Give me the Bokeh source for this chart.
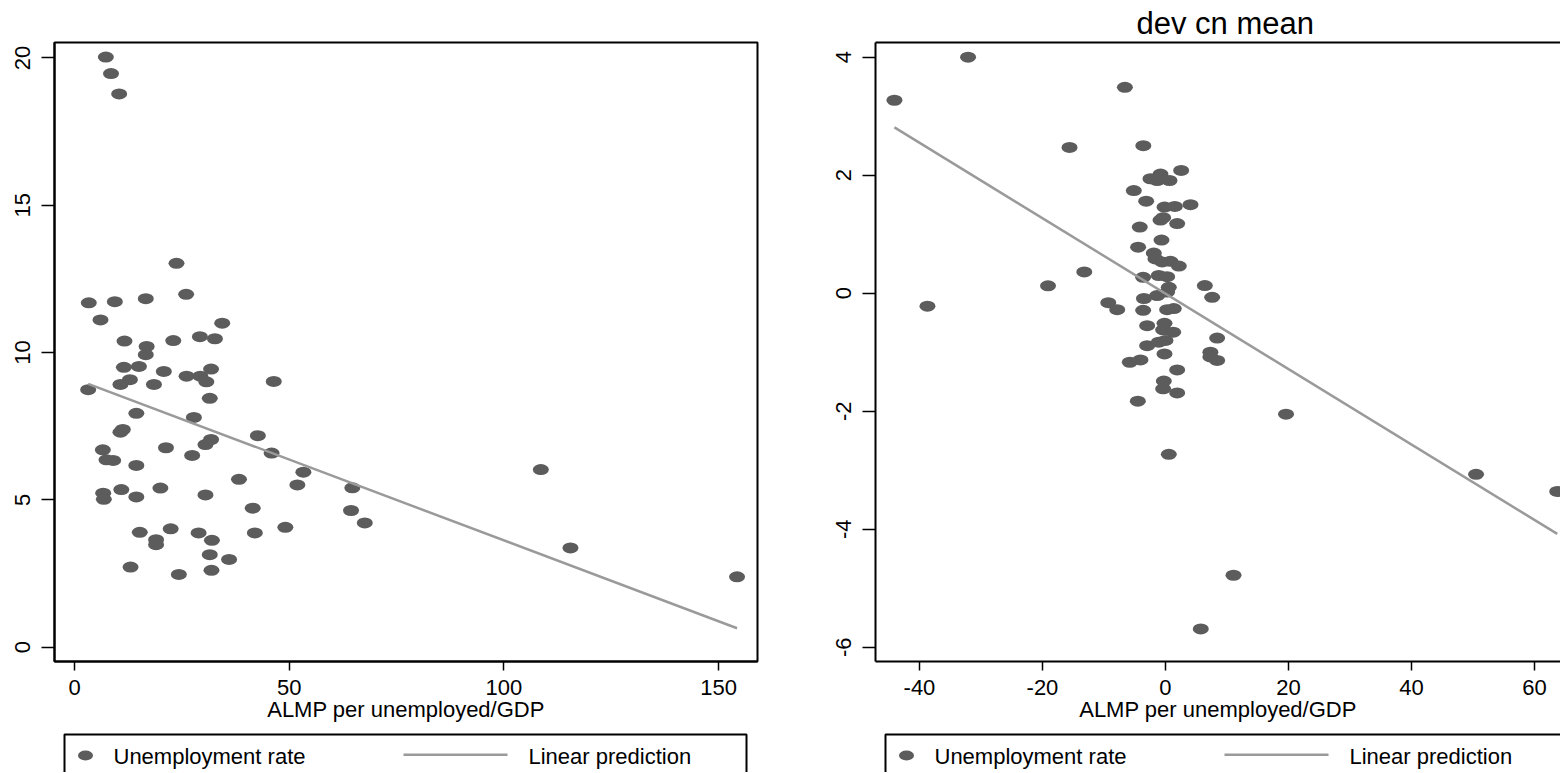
from bokeh.plotting import figure
from bokeh.models import Range1d, FixedTicker, LinearAxis, ColumnDataSource, Title
from bokeh.layouts import row, column
from bokeh.embed import file_html
from bokeh.resources import INLINE
from bokeh.core.properties import value

FONT = "Liberation Sans"
DOT_COLOR = "#5c5c5c"
FIT_COLOR = "#9a9a9a"

x_axis_title = "ALMP per unemployed/GDP"
dot_label = "Unemployment rate"
fit_label = "Linear prediction"
right_title = "dev cn mean"

# ---------------- left panel data ----------------
left_x = [7.3, 8.5, 10.4, 23.75, 3.33, 9.39, 16.6, 26.0, 6.05, 34.4,
          11.64, 23.0, 29.2, 32.7, 16.8, 16.6, 11.5, 15.0, 20.8, 31.8,
          26.1, 29.3, 30.7, 12.9, 10.7, 18.5, 46.4, 3.18, 31.5, 14.4,
          27.8, 11.25, 10.7, 31.8, 30.5, 42.7, 6.6, 21.3, 45.9, 7.45,
          9.0, 27.4, 14.4, 53.3, 38.3, 51.9, 64.7, 20.0, 10.9, 6.68,
          6.83, 14.4, 30.5, 41.5, 64.4, 67.6, 15.2, 22.4, 28.9, 32.0,
          19.0, 19.0, 42.0, 49.1, 31.5, 36.0, 13.05, 24.3, 31.9, 108.6,
          115.5, 154.3]
left_y = [20.03, 19.47, 18.78, 13.03, 11.69, 11.73, 11.83, 11.98, 11.11, 11.0,
          10.39, 10.41, 10.54, 10.47, 10.21, 9.93, 9.50, 9.53, 9.36, 9.44,
          9.20, 9.20, 9.01, 9.08, 8.92, 8.92, 9.02, 8.74, 8.45, 7.94,
          7.80, 7.39, 7.30, 7.05, 6.88, 7.18, 6.70, 6.77, 6.59, 6.36,
          6.34, 6.51, 6.17, 5.94, 5.70, 5.51, 5.41, 5.40, 5.35, 5.23,
          5.02, 5.10, 5.17, 4.72, 4.64, 4.22, 3.90, 4.02, 3.88, 3.63,
          3.65, 3.48, 3.88, 4.07, 3.14, 2.98, 2.72, 2.47, 2.61, 6.03,
          3.37, 2.39]
left_fit_x = [3.18, 154.3]
left_fit_y = [8.94, 0.645]
left_xticks = [0, 50, 100, 150]
left_xtick_labels = ["0", "50", "100", "150"]
left_yticks = [0, 5, 10, 15, 20]
left_ytick_labels = ["0", "5", "10", "15", "20"]

# ---------------- right panel data ----------------
right_x = [-44.07, -32.1, -6.6, -15.6, -3.6, -38.7, -19.1, -13.2, -9.3, -7.85,
           -4.5, 0.54, -5.8, -4.07, 19.6, 11.06, 5.74, 50.5, 63.7, 2.55,
           -2.44, -0.81, -1.35, 0.65, -5.15, -3.14, -0.16, 1.52, 4.07, -0.81,
           -0.38, 1.9, -4.18, -0.65, -4.45, -1.9, -1.63, -0.54, 0.81, 2.17,
           -1.09, 0.27, -3.63, 0.54, 6.4, 7.59, -3.5, -1.35, 0.27, -3.63,
           0.27, 1.35, -2.98, -0.16, -0.38, 1.25, 8.4, -2.98, -1.09, 0.0,
           -0.16, 7.3, 7.3, 8.4, 1.9, -0.27, -0.38, 1.9]
right_y = [3.27, 4.00, 3.49, 2.47, 2.50, -0.22, 0.125, 0.36, -0.16, -0.28,
           -1.83, -2.73, -1.17, -1.13, -2.05, -4.78, -5.69, -3.07, -3.36, 2.08,
           1.94, 2.02, 1.91, 1.91, 1.74, 1.56, 1.46, 1.47, 1.50, 1.24,
           1.28, 1.18, 1.12, 0.90, 0.78, 0.68, 0.58, 0.53, 0.54, 0.46,
           0.30, 0.28, 0.27, 0.10, 0.13, -0.07, -0.09, -0.04, 0.02, -0.29,
           -0.28, -0.26, -0.55, -0.51, -0.62, -0.66, -0.76, -0.89, -0.83, -0.80,
           -1.03, -1.00, -1.08, -1.14, -1.30, -1.49, -1.62, -1.69]
right_fit_x = [-44.07, 63.7]
right_fit_y = [2.81, -4.08]
right_xticks = [-40, -20, 0, 20, 40, 60]
right_xtick_labels = ["-40", "-20", "0", "20", "40", "60"]
right_yticks = [-6, -4, -2, 0, 2, 4]
right_ytick_labels = ["-6", "-4", "-2", "0", "2", "4"]

# ---------------- layout (pixels) ----------------
TOP = 42
FRAME_H = 619
BOTTOM = 71
LEG_H = 40
TOTAL_W = 1560
P1_LEFT, P1_FRAME_W, P1_RIGHT = 54, 703, 43
P2_LEFT, P2_FRAME_W = 75, 685
P1_FRAME_X = P1_LEFT
P2_FRAME_X = P1_LEFT + P1_FRAME_W + P1_RIGHT + P2_LEFT


def style_axis(ax, ticks, labels, tick_out, standoff):
    ax.ticker = FixedTicker(ticks=ticks)
    ax.major_label_overrides = dict(zip(ticks, labels))
    ax.major_label_text_font = FONT
    ax.major_label_text_font_size = "22px"
    ax.major_label_text_color = "black"
    ax.major_label_standoff = standoff
    ax.major_tick_in = 0
    ax.major_tick_out = tick_out
    ax.major_tick_line_color = "black"
    ax.major_tick_line_width = 1.5
    ax.minor_tick_line_color = None
    ax.axis_line_color = "black"
    ax.axis_line_width = 2


def make_panel(xs, ys, fx, fy, xr, yr, xticks, xlabels, yticks, ylabels,
               border_left, frame_w, border_right, closed):
    p = figure(output_backend="svg", toolbar_location=None,
               frame_width=frame_w, frame_height=FRAME_H,
               min_border_left=border_left, min_border_right=border_right,
               min_border_top=TOP, min_border_bottom=BOTTOM,
               x_range=Range1d(*xr), y_range=Range1d(*yr),
               background_fill_color="white", border_fill_color="white")
    p.grid.visible = False
    xa = p.below[0]
    ya = p.left[0]
    if closed:
        p.outline_line_color = "black"
        p.outline_line_width = 2
    else:
        p.outline_line_color = None
        top = LinearAxis(ticker=FixedTicker(ticks=[]), major_tick_out=0, major_tick_in=0,
                         major_label_standoff=0, major_label_text_font_size="0px",
                         axis_label=None, axis_line_color="black", axis_line_width=2,
                         minor_tick_line_color=None, minor_tick_out=0, minor_tick_in=0)
        p.add_layout(top, "above")

    style_axis(xa, xticks, xlabels, 9, 9)
    xa.axis_label = x_axis_title
    xa.axis_label_text_font = FONT
    xa.axis_label_text_font_size = "22px"
    xa.axis_label_text_font_style = "normal"
    xa.axis_label_text_color = "black"
    xa.axis_label_standoff = -1

    style_axis(ya, yticks, ylabels, 13, 11)
    ya.major_label_orientation = "vertical"

    src = ColumnDataSource(data=dict(x=xs, y=ys))
    p.ellipse(x="x", y="y", width=16, height=11, width_units="screen",
              height_units="screen", source=src, fill_color=DOT_COLOR, line_color=None)
    fit_src = ColumnDataSource(data=dict(x=fx, y=fy))
    p.line(x="x", y="y", source=fit_src, line_color=FIT_COLOR, line_width=2.5)
    return p


p1 = make_panel(left_x, left_y, left_fit_x, left_fit_y,
                (-4.66, 159.06), (-0.485, 20.526),
                left_xticks, left_xtick_labels, left_yticks, left_ytick_labels,
                P1_LEFT, P1_FRAME_W, P1_RIGHT, True)

p2 = make_panel(right_x, right_y, right_fit_x, right_fit_y,
                (-47.15, 64.23), (-6.242, 4.249),
                right_xticks, right_xtick_labels, right_yticks, right_ytick_labels,
                P2_LEFT, P2_FRAME_W, 0, False)
p2.title = Title(text=right_title, text_font=FONT, text_font_size="31px",
                 text_font_style="normal", text_color="black",
                 align="left", offset=261, standoff=3)

# ---------------- legend strip (one box under each panel) ----------------
lg = figure(output_backend="svg", toolbar_location=None,
            width=TOTAL_W, height=LEG_H,
            min_border_left=0, min_border_right=0, min_border_top=0, min_border_bottom=0,
            x_range=Range1d(0, TOTAL_W), y_range=Range1d(0, LEG_H),
            background_fill_color="white", border_fill_color="white", outline_line_color=None)
lg.axis.visible = False
lg.grid.visible = False

box_lefts = [P1_FRAME_X + 10, P2_FRAME_X + 10]
BOX_W = 682
BOX_TOP = LEG_H - 2
ROW_Y = LEG_H - 23
BASE_Y = LEG_H - 24
for bl in box_lefts:
    lg.line(x=[bl, bl, bl + BOX_W, bl + BOX_W], y=[-10, BOX_TOP, BOX_TOP, -10],
            line_color="black", line_width=2)
    lg.ellipse(x=[bl + 21], y=[ROW_Y], width=15, height=10, width_units="screen",
               height_units="screen", fill_color=DOT_COLOR, line_color=None)
    lg.line(x=[bl + 339, bl + 443], y=[ROW_Y + 0.7, ROW_Y + 0.7], line_color=FIT_COLOR, line_width=2.5)
    lg.text(x=[bl + 49, bl + 464], y=[BASE_Y, BASE_Y], text=[dot_label, fit_label],
            text_font=value(FONT), text_font_size="22px", text_color="black",
            text_baseline="alphabetic", text_align="left")

layout = column(row(p1, p2), lg)
open("out.html", "w").write(file_html(layout, INLINE))
